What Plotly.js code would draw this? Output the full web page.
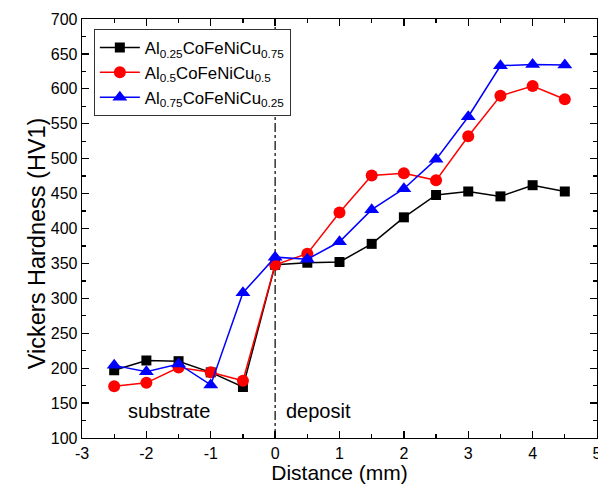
<!DOCTYPE html>
<html>
<head>
<meta charset="utf-8">
<script src="https://cdn.plot.ly/plotly-3.0.1.min.js"></script>
<style>html,body{margin:0;padding:0;background:#fff;}#chart{width:598px;height:485px;}</style>
</head>
<body>
<div id="chart"></div>
<script>
const distance = [-2.5, -2, -1.5, -1, -0.5, 0, 0.5, 1, 1.5, 2, 2.5, 3, 3.5, 4, 4.5];
const al025 = [197, 211, 210, 194, 173, 348, 351, 352, 378, 416, 448, 453, 446, 462, 453];
const al05  = [174, 179, 201, 194, 182, 348, 364, 423, 476, 479, 469, 532, 590, 604, 585];
const al075 = [204, 195, 206, 176, 308, 359, 356, 381, 427, 457, 499, 560, 633, 635, 634];
const seriesNames = ['Al<sub>0.25</sub>CoFeNiCu<sub>0.75</sub>', 'Al<sub>0.5</sub>CoFeNiCu<sub>0.5</sub>', 'Al<sub>0.75</sub>CoFeNiCu<sub>0.25</sub>'];
const xTickVals = [-3, -2, -1, 0, 1, 2, 3, 4, 5];
const xTickLabels = ['-3', '-2', '-1', '0', '1', '2', '3', '4', '5'];
const regionLabels = ['substrate', 'deposit'];
const xTitle = 'Distance (mm)';
const yTitle = 'Vickers Hardness (HV1)';

const font = 'Liberation Sans, Arial, sans-serif';
const traces = [
  {x: distance, y: al025, name: seriesNames[0], mode: 'lines+markers', line: {color: '#000', width: 1.5}, marker: {symbol: 'square', size: 10, color: '#000'}},
  {x: distance, y: al05, name: seriesNames[1], mode: 'lines+markers', line: {color: '#ff0000', width: 1.5}, marker: {symbol: 'circle', size: 12, color: '#ff0000'}},
  {x: distance, y: al075, name: seriesNames[2], mode: 'lines+markers', line: {color: '#0000ff', width: 1.5}, marker: {symbol: 'triangle-up', size: 13, color: '#0000ff'}}
];
const axisCommon = {
  showline: true, linecolor: '#000', linewidth: 1.3, mirror: 'allticks',
  ticks: 'inside', ticklen: 7, tickwidth: 1.3, tickcolor: '#000',
  showgrid: false, zeroline: false, ticklabeloverflow: 'allow',
  tickfont: {family: font, size: 16, color: '#000'}
};
const layout = {
  width: 598, height: 485,
  margin: {l: 82, r: 1, t: 19, b: 47},
  paper_bgcolor: '#fff', plot_bgcolor: '#fff',
  showlegend: true,
  legend: {x: 0.023, y: 0.976, xanchor: 'left', yanchor: 'top', bgcolor: '#fff', bordercolor: '#333', borderwidth: 1,
           font: {family: font, size: 16.8, color: '#000'}, tracegroupgap: 0, itemwidth: 40},
  xaxis: Object.assign({}, axisCommon, {
    range: [-3, 5], tickmode: 'array', tickvals: xTickVals, ticktext: xTickLabels,
    minor: {dtick: 0.5, tick0: 0, ticks: 'inside', ticklen: 4, tickcolor: '#000', tickwidth: 1.3},
    title: {text: xTitle, font: {family: font, size: 21, color: '#000'}, standoff: 3}
  }),
  yaxis: Object.assign({}, axisCommon, {
    range: [100, 700], dtick: 50, tick0: 0,
    minor: {dtick: 25, ticks: 'inside', ticklen: 4, tickcolor: '#000', tickwidth: 1.3}
  }),
  shapes: [
    {type: 'line', xref: 'x', yref: 'y', x0: 0, x1: 0, y0: 100, y1: 700, line: {color: '#000', width: 1.2, dash: 'dashdot'}, layer: 'below'}
  ],
  annotations: [
    {x: -1.65, y: 138, xref: 'x', yref: 'y', text: regionLabels[0], showarrow: false, font: {family: font, size: 20, color: '#000'}},
    {x: 0.68, y: 138, xref: 'x', yref: 'y', text: regionLabels[1], showarrow: false, font: {family: font, size: 20, color: '#000'}},
    {x: -0.1165, y: 0.465, xref: 'paper', yref: 'paper', text: yTitle, textangle: -90, showarrow: false, font: {family: font, size: 23.5, color: '#000'}}
  ]
};
Plotly.newPlot('chart', traces, layout, {displayModeBar: false, staticPlot: true});
</script>
</body>
</html>
